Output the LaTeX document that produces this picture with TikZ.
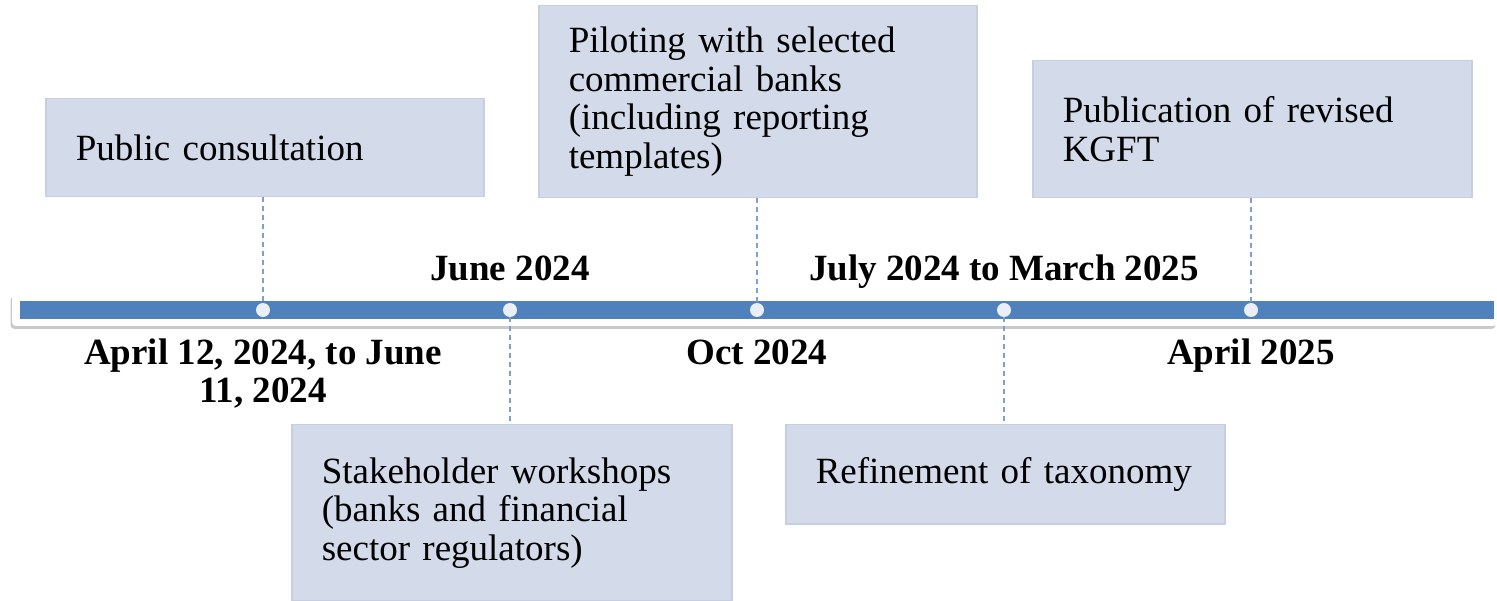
\documentclass[tikz,border=0pt]{standalone}
\usepackage{fontspec}
\setmainfont{Liberation Serif}
\usetikzlibrary{shadows}
\definecolor{barblue}{RGB}{79,129,189}
\definecolor{boxfill}{RGB}{211,218,233}
\definecolor{boxline}{RGB}{198,206,224}
\definecolor{dotfill}{RGB}{233,238,247}
\definecolor{dashcol}{RGB}{126,160,208}
\begin{document}
\begin{tikzpicture}[x=1pt,y=-1pt,
  evbox/.style={draw=boxline, line width=1.5pt, fill=boxfill, rectangle, anchor=north west,
    inner xsep=30pt, inner ysep=0pt, align=left,
    font=\fontsize{37}{38.5}\selectfont},
  datelbl/.style={font=\fontsize{37}{38.5}\selectfont\bfseries, inner sep=0pt, align=center},
  tdot/.style={circle, fill=dotfill, inner sep=0pt, minimum size=14pt},
  conn/.style={draw=dashcol, line width=2pt, dash pattern=on 5pt off 4pt}
]
\useasboundingbox (0,0) rectangle (1497,601);
% timeline bar
\fill[white, rounded corners=4pt, drop shadow={shadow xshift=-1.5pt, shadow yshift=-3pt, opacity=0.3, fill=black!70}] (12,293) rectangle (1497,326);
\fill[barblue] (20,301) rectangle (1494,319);
% dots
\node[tdot] (d1) at (263,310) {};
\node[tdot] (d2) at (510,310) {};
\node[tdot] (d3) at (757,310) {};
\node[tdot] (d4) at (1004,310) {};
\node[tdot] (d5) at (1251,310) {};
% boxes
\node[evbox, text width=378pt, minimum height=98pt] (b1) at (45,98) {Public consultation};
\node[evbox, text width=380pt, minimum height=176pt] (b2) at (291,424) {Stakeholder workshops\\(banks and financial\\sector regulators)};
\node[evbox, text width=378pt, minimum height=192pt] (b3) at (538,5) {Piloting with selected\\commercial banks\\(including reporting\\templates)};
\node[evbox, text width=379pt, minimum height=99pt] (b4) at (785,424) {Refinement of taxonomy};
\node[evbox, text width=379pt, minimum height=137pt] (b5) at (1032,60) {Publication of revised\\KGFT};
% connectors
\draw[conn] (b1.south -| d1) -- (d1.north);
\draw[conn] (d2.south) -- (b2.north -| d2);
\draw[conn] (b3.south -| d3) -- (d3.north);
\draw[conn] (d4.south) -- (b4.north -| d4);
\draw[conn] (b5.south -| d5) -- (d5.north);
% dates
\node[datelbl, anchor=base] (t1) at (263,403) {April 12, 2024, to June\\11, 2024};
\node[datelbl, anchor=base] (t2) at (510,281) {June 2024};
\node[datelbl, anchor=base] (t3) at (757,365) {Oct 2024};
\node[datelbl, anchor=base] (t4) at (1004,281) {July 2024 to March 2025};
\node[datelbl, anchor=base] (t5) at (1251,365) {April 2025};
\end{tikzpicture}
\end{document}
